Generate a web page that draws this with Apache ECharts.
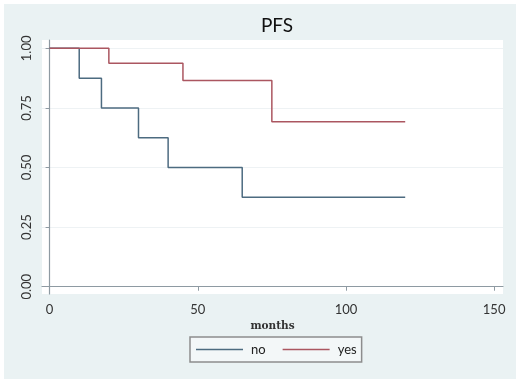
<!DOCTYPE html>
<html>
<head>
<meta charset="utf-8">
<script src="https://cdn.jsdelivr.net/npm/echarts@6/dist/echarts.min.js"></script>
<style>
  html, body { margin: 0; padding: 0; background: #fff; }
  #chart { width: 520px; height: 383px; }
</style>
</head>
<body>
<div id="chart"></div>
<script>
// Kaplan-Meier steps
var monthsNo = [0, 10, 17.5, 30, 40, 65, 120];
var survNo = [1, 0.875, 0.75, 0.625, 0.5, 0.375, 0.375];
var monthsYes = [0, 20, 45, 75, 120];
var survYes = [1, 0.9375, 0.8654, 0.6923, 0.6923];
var xTicks = [0, 50, 100, 150];
var yTicks = [0, 0.25, 0.5, 0.75, 1];

function pairs(xs, ys) {
  return xs.map(function (x, i) { return [x, ys[i]]; });
}

var font = 'Lato, "Open Sans", sans-serif',
  axisGray = '#8e9aa2';

var myChart = echarts.init(document.getElementById('chart'), null, { renderer: 'canvas' });
var option = {
  backgroundColor: '#fff',
  animation: false,
  graphic: [{
    type: 'rect',
    z: -10,
    silent: true,
    shape: { x: 4, y: 4, width: 512, height: 375 },
    style: { fill: '#eaf2f3' }
  }],
  title: {
    text: 'PFS',
    left: 272,
    top: 11,
    textAlign: 'center',
    textStyle: { fontFamily: font, fontSize: 19, fontWeight: 'normal', color: '#111' }
  },
  grid: {
    left: 42, right: 17, top: 40, bottom: 89,
    show: true, backgroundColor: '#fff', borderWidth: 0
  },
  legend: {
    left: 190, top: 337,
    padding: [5, 5, 5, 6],
    icon: 'rect',
    itemWidth: 47, itemHeight: 1.5, itemGap: 17,
    borderColor: '#8d8d8d', borderWidth: 1.5,
    backgroundColor: '#f3f7f8',
    textStyle: { fontFamily: font, fontSize: 13, lineHeight: 15, color: '#222', padding: [0, 0, 0, 3] },
    data: ['no', 'yes']
  },
  xAxis: {
    type: 'value',
    min: -2.56, max: 153,
    name: 'months',
    nameLocation: 'middle',
    nameGap: 24,
    nameTextStyle: { fontFamily: '"DejaVu Serif", serif', fontSize: 10.5, fontWeight: 'bold', color: '#333' },
    axisLine: { show: true, lineStyle: { color: axisGray, width: 1.2 } },
    axisTick: { show: true, length: 4, customValues: xTicks, lineStyle: { color: axisGray } },
    axisLabel: { customValues: xTicks, margin: 9, fontFamily: font, fontSize: 13, color: '#333' },
    splitLine: { show: false }
  },
  yAxis: {
    type: 'value',
    min: -0.0306, max: 1.035,
    axisLine: { show: true, lineStyle: { color: axisGray, width: 1.2 } },
    axisTick: { show: true, length: 4, customValues: yTicks, lineStyle: { color: axisGray } },
    axisLabel: {
      customValues: yTicks, rotate: 90, margin: 9,
      fontFamily: font, fontSize: 13, color: '#333',
      formatter: function (v) { return v.toFixed(2); }
    },
    splitLine: { show: true, lineStyle: { color: '#eef2f4', width: 1 } }
  },
  series: [{
    name: 'no',
    type: 'line',
    step: 'end',
    symbol: 'none',
    color: '#4d6b80',
    lineStyle: { width: 1.5 },
    data: pairs(monthsNo, survNo)
  }, {
    name: 'yes',
    type: 'line',
    step: 'end',
    symbol: 'none',
    color: '#ab5660',
    lineStyle: { width: 1.5 },
    data: pairs(monthsYes, survYes)
  }]
};
myChart.setOption(option);
</script>
</body>
</html>
